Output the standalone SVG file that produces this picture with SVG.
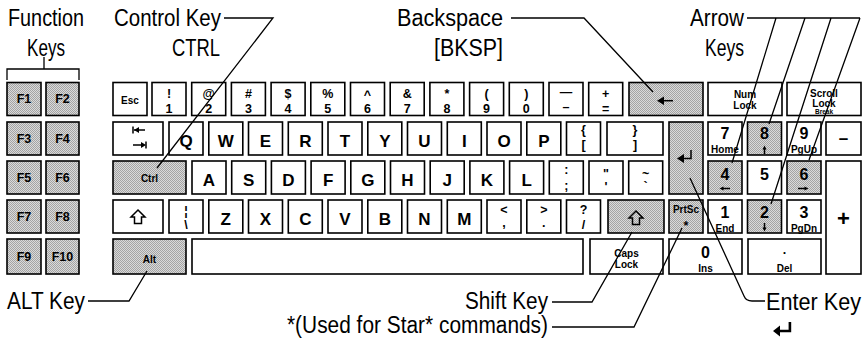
<svg xmlns="http://www.w3.org/2000/svg" width="868" height="346" viewBox="0 0 868 346">
<defs>
<pattern id="sh" width="2" height="2" patternUnits="userSpaceOnUse"><rect width="2" height="2" fill="#dadada"/><rect width="1" height="1" fill="#a4a4a4"/><rect x="1" y="1" width="1" height="1" fill="#a4a4a4"/></pattern>
</defs>
<style>
.k{fill:#fff;stroke:#000;stroke-width:1.6}
.s{fill:url(#sh);stroke:#000;stroke-width:1.6}
text{font-family:"Liberation Sans",Arial,Helvetica,sans-serif;fill:#000}
.b{font-weight:bold;text-anchor:middle}
.L{font-size:17px}
.N{font-size:16px}
.m{font-size:12.5px}
.sm{font-size:10px}
.xs{font-size:6.5px}
.lab{font-size:23px}
.ln{fill:none;stroke:#000;stroke-width:1.3}
.ic{fill:none;stroke:#000;stroke-width:1.5}
.fi{fill:#000;stroke:none}
</style>
<rect width="868" height="346" fill="#fff"/>

<g id="labels">
<text class="lab" x="8" y="26" textLength="76" lengthAdjust="spacingAndGlyphs">Function</text>
<text class="lab" x="27" y="56" textLength="38" lengthAdjust="spacingAndGlyphs">Keys</text>
<text class="lab" x="114" y="26" textLength="107" lengthAdjust="spacingAndGlyphs">Control Key</text>
<text class="lab" x="172" y="56" textLength="48" lengthAdjust="spacingAndGlyphs">CTRL</text>
<text class="lab" x="397" y="26" textLength="106" lengthAdjust="spacingAndGlyphs">Backspace</text>
<text class="lab" x="434" y="56" textLength="69" lengthAdjust="spacingAndGlyphs">[BKSP]</text>
<text class="lab" x="690" y="26" textLength="54" lengthAdjust="spacingAndGlyphs">Arrow</text>
<text class="lab" x="705" y="56" textLength="39" lengthAdjust="spacingAndGlyphs">Keys</text>
<text class="lab" x="7" y="309" textLength="78" lengthAdjust="spacingAndGlyphs">ALT Key</text>
<text class="lab" x="465" y="309" textLength="83" lengthAdjust="spacingAndGlyphs">Shift Key</text>
<text class="lab" x="287" y="333" textLength="261" lengthAdjust="spacingAndGlyphs">*(Used for Star* commands)</text>
<text class="lab" x="766" y="310" textLength="95" lengthAdjust="spacingAndGlyphs">Enter Key</text>
<path class="fi" d="M773,331 L780,325.5 L780,329.8 L788.6,329.8 L788.6,322 L791.2,322 L791.2,332.2 L780,332.2 L780,336.5 Z"/>
</g>

<g id="function-keys">
<path class="ln" d="M7,80 V69 H79 V80 M44,69 V57"/>
<g id="key-F1"><rect class="s" x="7" y="82.5" width="34" height="33"/><text class="b m" x="24" y="103">F1</text></g>
<g id="key-F2"><rect class="s" x="46" y="82.5" width="33" height="33"/><text class="b m" x="62.5" y="103">F2</text></g>
<g id="key-F3"><rect class="s" x="7" y="122" width="34" height="33"/><text class="b m" x="24" y="143">F3</text></g>
<g id="key-F4"><rect class="s" x="46" y="122" width="33" height="33"/><text class="b m" x="62.5" y="143">F4</text></g>
<g id="key-F5"><rect class="s" x="7" y="161" width="34" height="33"/><text class="b m" x="24" y="182">F5</text></g>
<g id="key-F6"><rect class="s" x="46" y="161" width="33" height="33"/><text class="b m" x="62.5" y="182">F6</text></g>
<g id="key-F7"><rect class="s" x="7" y="200" width="34" height="33"/><text class="b m" x="24" y="221">F7</text></g>
<g id="key-F8"><rect class="s" x="46" y="200" width="33" height="33"/><text class="b m" x="62.5" y="221">F8</text></g>
<g id="key-F9"><rect class="s" x="7" y="239" width="34" height="35"/><text class="b m" x="24" y="261">F9</text></g>
<g id="key-F10"><rect class="s" x="46" y="239" width="33" height="35"/><text class="b m" x="62.5" y="261">F10</text></g>
</g>

<g id="row1">
<g id="key-esc"><rect class="k" x="113" y="82.5" width="34" height="33"/><text class="b sm" x="130" y="104">Esc</text></g>
<g id="key-1"><rect class="k" x="152" y="82.5" width="34" height="33"/><text class="b m" x="169" y="98">!</text><text class="b m" x="169" y="113">1</text></g>
<g id="key-2"><rect class="k" x="191.7" y="82.5" width="34" height="33"/><text class="b m" x="208.7" y="98">@</text><text class="b m" x="208.7" y="113">2</text></g>
<g id="key-3"><rect class="k" x="231.4" y="82.5" width="34" height="33"/><text class="b m" x="248.4" y="98">#</text><text class="b m" x="248.4" y="113">3</text></g>
<g id="key-4"><rect class="k" x="271.1" y="82.5" width="34" height="33"/><text class="b m" x="288.1" y="98">$</text><text class="b m" x="288.1" y="113">4</text></g>
<g id="key-5"><rect class="k" x="310.8" y="82.5" width="34" height="33"/><text class="b m" x="327.8" y="98">%</text><text class="b m" x="327.8" y="113">5</text></g>
<g id="key-6"><rect class="k" x="350.5" y="82.5" width="34" height="33"/><text class="b m" x="367.5" y="99">^</text><text class="b m" x="367.5" y="113">6</text></g>
<g id="key-7"><rect class="k" x="390.2" y="82.5" width="34" height="33"/><text class="b m" x="407.2" y="98">&amp;</text><text class="b m" x="407.2" y="113">7</text></g>
<g id="key-8"><rect class="k" x="429.9" y="82.5" width="34" height="33"/><text class="b m" x="446.9" y="98">*</text><text class="b m" x="446.9" y="113">8</text></g>
<g id="key-9"><rect class="k" x="469.6" y="82.5" width="34" height="33"/><text class="b m" x="486.6" y="98">(</text><text class="b m" x="486.6" y="113">9</text></g>
<g id="key-0"><rect class="k" x="509.3" y="82.5" width="34" height="33"/><text class="b m" x="526.3" y="98">)</text><text class="b m" x="526.3" y="113">0</text></g>
<g id="key-minus"><rect class="k" x="549" y="82.5" width="34" height="33"/><text class="b m" x="566" y="96">—</text><text class="b m" x="566" y="111">–</text></g>
<g id="key-equals"><rect class="k" x="588.7" y="82.5" width="34" height="33"/><text class="b m" x="605.7" y="98">+</text><text class="b m" x="605.7" y="113">=</text></g>
<g id="key-backspace"><rect class="s" x="629" y="82.5" width="74" height="33"/><path class="fi" d="M657,100.7 L664,96.5 L664,105 Z"/><path class="ic" d="M663,100.7 H673"/></g>
<g id="key-numlock"><rect class="k" x="708" y="82.5" width="74" height="33"/><text class="b sm" x="745" y="98">Num</text><text class="b sm" x="745" y="109">Lock</text></g>
<g id="key-scrolllock"><rect class="k" x="787" y="82.5" width="74" height="33"/><text class="b sm" x="824" y="97">Scroll</text><text class="b sm" x="824" y="107">Lock</text><text class="b xs" x="824" y="114">Break</text></g>
</g>

<g id="row2">
<g id="key-tab"><rect class="k" x="113" y="122" width="50" height="33"/><path class="ic" d="M133,126.5 V133.5 M134,130 H145 M146,141.5 V148.5 M133,145 H144"/><path class="fi" d="M134,130 L139,127 L139,133 Z M146,145 L141,142 L141,148 Z"/></g>
<g id="key-q"><rect class="k" x="169" y="122" width="34" height="33"/><text class="b L" x="186" y="147">Q</text></g>
<g id="key-w"><rect class="k" x="208.8" y="122" width="34" height="33"/><text class="b L" x="225.8" y="147">W</text></g>
<g id="key-e"><rect class="k" x="248.5" y="122" width="34" height="33"/><text class="b L" x="265.5" y="147">E</text></g>
<g id="key-r"><rect class="k" x="288.3" y="122" width="34" height="33"/><text class="b L" x="305.3" y="147">R</text></g>
<g id="key-t"><rect class="k" x="328" y="122" width="34" height="33"/><text class="b L" x="345" y="147">T</text></g>
<g id="key-y"><rect class="k" x="367.8" y="122" width="34" height="33"/><text class="b L" x="384.8" y="147">Y</text></g>
<g id="key-u"><rect class="k" x="407.5" y="122" width="34" height="33"/><text class="b L" x="424.5" y="147">U</text></g>
<g id="key-i"><rect class="k" x="447.3" y="122" width="34" height="33"/><text class="b L" x="464.3" y="147">I</text></g>
<g id="key-o"><rect class="k" x="487" y="122" width="34" height="33"/><text class="b L" x="504" y="147">O</text></g>
<g id="key-p"><rect class="k" x="526.8" y="122" width="34" height="33"/><text class="b L" x="543.8" y="147">P</text></g>
<g id="key-lbracket"><rect class="k" x="566.5" y="122" width="34" height="33"/><text class="b m" x="583.5" y="134">{</text><text class="b m" x="583.5" y="149">[</text></g>
<g id="key-rbracket"><rect class="k" x="607" y="122" width="56" height="33"/><text class="b m" x="635" y="134">}</text><text class="b m" x="635" y="149">]</text></g>
<g id="key-enter"><rect class="s" x="669" y="122" width="34" height="72"/><path class="ic" d="M691,150 V158.5 H683"/><path class="fi" d="M677,158.5 L684,154 L684,163 Z"/></g>
<g id="key-n7"><rect class="k" x="708" y="122" width="34" height="33"/><text class="b N" x="725" y="139">7</text><text class="b sm" x="725" y="153">Home</text></g>
<g id="key-n8"><rect class="s" x="747.5" y="122" width="34" height="33"/><text class="b N" x="764.5" y="139">8</text><path class="ic" d="M764.5,154 V148" stroke-width="1"/><path class="fi" d="M764.5,145.5 L762.5,149.5 L766.5,149.5 Z"/></g>
<g id="key-n9"><rect class="k" x="787" y="122" width="34" height="33"/><text class="b N" x="804" y="139">9</text><text class="b sm" x="804" y="153">PgUp</text></g>
<g id="key-nminus"><rect class="k" x="826" y="122" width="35" height="33"/><text class="b L" x="843.5" y="144">–</text></g>
</g>

<g id="row3">
<g id="key-ctrl"><rect class="s" x="113" y="161" width="73" height="33"/><text class="b sm" x="149.5" y="182">Ctrl</text></g>
<g id="key-a"><rect class="k" x="192" y="161" width="34" height="33"/><text class="b L" x="209" y="186">A</text></g>
<g id="key-s"><rect class="k" x="231.7" y="161" width="34" height="33"/><text class="b L" x="248.7" y="186">S</text></g>
<g id="key-d"><rect class="k" x="271.4" y="161" width="34" height="33"/><text class="b L" x="288.4" y="186">D</text></g>
<g id="key-f"><rect class="k" x="311.1" y="161" width="34" height="33"/><text class="b L" x="328.1" y="186">F</text></g>
<g id="key-g"><rect class="k" x="350.8" y="161" width="34" height="33"/><text class="b L" x="367.8" y="186">G</text></g>
<g id="key-h"><rect class="k" x="390.5" y="161" width="34" height="33"/><text class="b L" x="407.5" y="186">H</text></g>
<g id="key-j"><rect class="k" x="430.2" y="161" width="34" height="33"/><text class="b L" x="447.2" y="186">J</text></g>
<g id="key-k"><rect class="k" x="469.9" y="161" width="34" height="33"/><text class="b L" x="486.9" y="186">K</text></g>
<g id="key-l"><rect class="k" x="509.6" y="161" width="34" height="33"/><text class="b L" x="526.6" y="186">L</text></g>
<g id="key-semicolon"><rect class="k" x="549.3" y="161" width="34" height="33"/><text class="b m" x="566.3" y="174">:</text><text class="b m" x="566.3" y="190">;</text></g>
<g id="key-quote"><rect class="k" x="589" y="161" width="34" height="33"/><text class="b m" x="606" y="178">"</text><text class="b m" x="606" y="191">'</text></g>
<g id="key-tilde"><rect class="k" x="628.7" y="161" width="34" height="33"/><text class="b m" x="645.7" y="178">~</text><text class="b m" x="645.7" y="191">`</text></g>
<g id="key-n4"><rect class="s" x="708" y="161" width="34" height="33"/><text class="b N" x="725" y="180">4</text><path class="ic" d="M730,188.5 H722" stroke-width="1"/><path class="fi" d="M719.5,188.5 L723.5,186.5 L723.5,190.5 Z"/></g>
<g id="key-n5"><rect class="k" x="747.5" y="161" width="34" height="33"/><text class="b N" x="764.5" y="180">5</text></g>
<g id="key-n6"><rect class="s" x="787" y="161" width="34" height="33"/><text class="b N" x="804" y="180">6</text><path class="ic" d="M798,188.5 H806" stroke-width="1"/><path class="fi" d="M808.5,188.5 L804.5,186.5 L804.5,190.5 Z"/></g>
<g id="key-nplus"><rect class="k" x="826" y="161" width="35" height="113"/><text class="b" x="843.5" y="226" font-size="22">+</text></g>
</g>

<g id="row4">
<g id="key-lshift"><rect class="k" x="113" y="200" width="50" height="33"/><path class="ic" d="M138,210 L145,217 L141.5,217 L141.5,223.5 L134.5,223.5 L134.5,217 L131,217 Z"/></g>
<g id="key-backslash"><rect class="k" x="169" y="200" width="34" height="33"/><text class="b m" x="186" y="215">¦</text><text class="b m" x="186" y="229">\</text></g>
<g id="key-z"><rect class="k" x="208.8" y="200" width="34" height="33"/><text class="b L" x="225.8" y="225">Z</text></g>
<g id="key-x"><rect class="k" x="248.5" y="200" width="34" height="33"/><text class="b L" x="265.5" y="225">X</text></g>
<g id="key-c"><rect class="k" x="288.3" y="200" width="34" height="33"/><text class="b L" x="305.3" y="225">C</text></g>
<g id="key-v"><rect class="k" x="328" y="200" width="34" height="33"/><text class="b L" x="345" y="225">V</text></g>
<g id="key-b"><rect class="k" x="367.8" y="200" width="34" height="33"/><text class="b L" x="384.8" y="225">B</text></g>
<g id="key-n"><rect class="k" x="407.5" y="200" width="34" height="33"/><text class="b L" x="424.5" y="225">N</text></g>
<g id="key-m"><rect class="k" x="447.3" y="200" width="34" height="33"/><text class="b L" x="464.3" y="225">M</text></g>
<g id="key-comma"><rect class="k" x="487" y="200" width="34" height="33"/><text class="b m" x="504" y="214">&lt;</text><text class="b m" x="504" y="227">,</text></g>
<g id="key-period"><rect class="k" x="526.8" y="200" width="34" height="33"/><text class="b m" x="543.8" y="214">&gt;</text><text class="b m" x="543.8" y="227">.</text></g>
<g id="key-slash"><rect class="k" x="566.5" y="200" width="34" height="33"/><text class="b m" x="583.5" y="214">?</text><text class="b m" x="583.5" y="229">/</text></g>
<g id="key-rshift"><rect class="s" x="608" y="200" width="56" height="33"/><path class="ic" d="M636,211 L643,218 L639.5,218 L639.5,224.5 L632.5,224.5 L632.5,218 L629,218 Z"/></g>
<g id="key-prtsc"><rect class="s" x="669" y="200" width="34" height="33"/><text class="b sm" x="686" y="213">PrtSc</text><text class="b m" x="686" y="230">*</text></g>
<g id="key-n1"><rect class="k" x="708" y="200" width="34" height="33"/><text class="b N" x="725" y="217.5">1</text><text class="b sm" x="725" y="232">End</text></g>
<g id="key-n2"><rect class="s" x="747.5" y="200" width="34" height="33"/><text class="b N" x="764.5" y="217.5">2</text><path class="ic" d="M764.5,223 V229" stroke-width="1"/><path class="fi" d="M764.5,231.5 L762.5,227.5 L766.5,227.5 Z"/></g>
<g id="key-n3"><rect class="k" x="787" y="200" width="34" height="33"/><text class="b N" x="804" y="217.5">3</text><text class="b sm" x="804" y="232">PgDn</text></g>
</g>

<g id="row5">
<g id="key-alt"><rect class="s" x="113" y="239" width="73" height="35"/><text class="b sm" x="149.5" y="263">Alt</text></g>
<g id="key-space"><rect class="k" x="192" y="239" width="391" height="35"/></g>
<g id="key-capslock"><rect class="k" x="590" y="239" width="73" height="35"/><text class="b sm" x="626.5" y="257">Caps</text><text class="b sm" x="626.5" y="268">Lock</text></g>
<g id="key-n0"><rect class="k" x="669" y="239" width="73" height="35"/><text class="b N" x="705.5" y="258">0</text><text class="b sm" x="705.5" y="272">Ins</text></g>
<g id="key-ndel"><rect class="k" x="748" y="239" width="73" height="35"/><text class="b m" x="784.5" y="254">.</text><text class="b sm" x="784.5" y="272">Del</text></g>
</g>

<g id="connectors">
<path class="ln" d="M224,18 H273 L157,168"/>
<path class="ln" d="M511,18 H584 L653,92"/>
<path class="ln" d="M747,18 H860 M776,18 L732,163 M805,18 L769,124 M831,18 L771,204 M860,18 L809,160"/>
<path class="ln" d="M88,301 H129 L147,271"/>
<path class="ln" d="M552,302 H592 L632,232"/>
<path class="ln" d="M552,327 H634 L682,228"/>
<path class="ln" d="M690,178 L744,296 Q746,301 752,301 H765"/>
</g>
</svg>
